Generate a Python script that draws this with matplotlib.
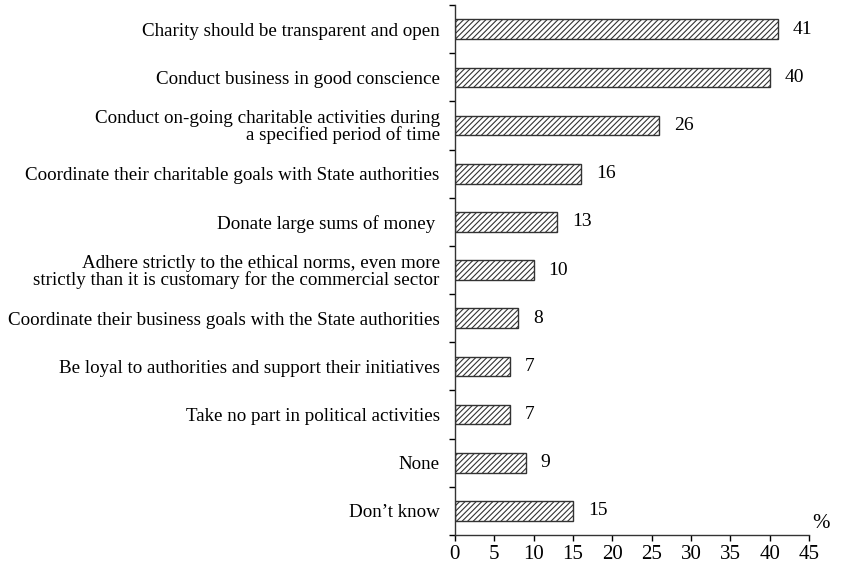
import matplotlib.pyplot as plt
import matplotlib as mpl
import numpy as np

plt.rcParams['font.family'] = 'Liberation Serif'
mpl.rcParams['hatch.linewidth'] = 0.8

labels = [
    "Charity should be transparent and open",
    "Conduct business in good conscience",
    "Conduct on-going charitable activities during\na specified period of time",
    "Coordinate their charitable goals with State authorities",
    "Donate large sums of money ",
    "Adhere strictly to the ethical norms, even more\nstrictly than it is customary for the commercial sector",
    "Coordinate their business goals with the State authorities",
    "Be loyal to authorities and support their initiatives",
    "Take no part in political activities",
    "None",
    "Don\u2019t know",
]
values = [41, 40, 26, 16, 13, 10, 8, 7, 7, 9, 15]
xticks = [0, 5, 10, 15, 20, 25, 30, 35, 40, 45]

fig = plt.figure(figsize=(8.44, 5.70), dpi=100)
ax = fig.add_axes([0.539, 0.0614, 0.4195, 0.9296])

y = np.arange(len(labels))[::-1]
ax.barh(y, values, height=0.41, color='white', edgecolor='#333333',
        linewidth=1.0, hatch='//////')

for yi, v in zip(y, values):
    ax.text(v + 1.9, yi, str(v), va='center', ha='left', fontsize=14)

ax.set_xlim(0, 45)
ax.set_ylim(-0.5, len(labels) - 0.5)
ax.set_xticks(xticks)
ax.set_xticklabels([str(t) for t in xticks], fontsize=15)
ax.set_yticks(y)
ax.set_yticklabels(labels, fontsize=13.7, linespacing=0.95)
ax.set_yticks(np.arange(len(labels) + 1) - 0.5, minor=True)

ax.tick_params(axis='y', which='major', length=0, pad=11)
ax.tick_params(axis='y', which='minor', length=4, width=1, direction='out')
ax.tick_params(axis='x', length=4, width=1, direction='out', pad=3)

for s in ['top', 'right']:
    ax.spines[s].set_visible(False)
for s in ['left', 'bottom']:
    ax.spines[s].set_color('#333333')
    ax.spines[s].set_linewidth(1.0)

ax.text(1.008, 0.004, '%', transform=ax.transAxes, fontsize=15,
        ha='left', va='bottom')

fig.savefig('out.png', dpi=100)
